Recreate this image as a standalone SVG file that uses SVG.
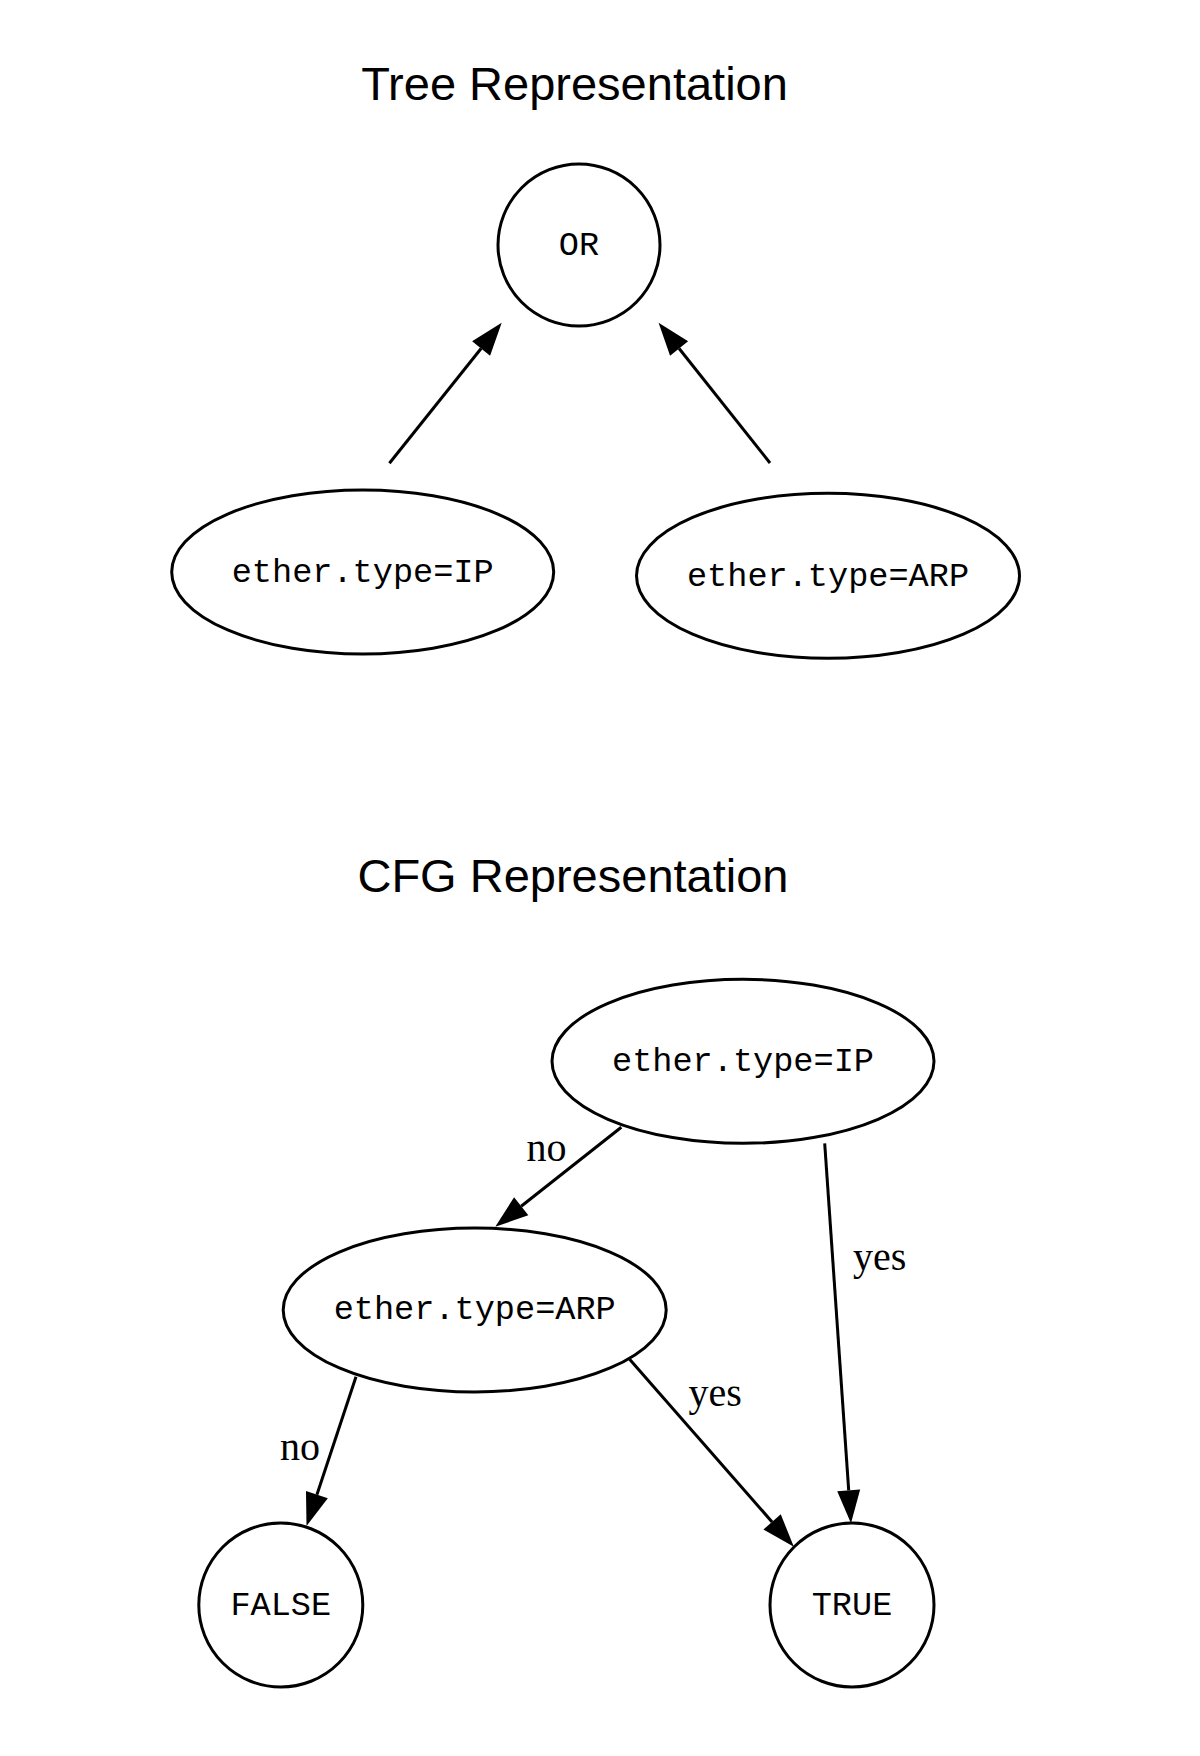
<svg xmlns="http://www.w3.org/2000/svg" width="1200" height="1756" viewBox="0 0 1200 1756">
<style>
.node{fill:#fff;stroke:#000;stroke-width:3}
.lbl{font-family:"Liberation Mono","DejaVu Sans Mono",monospace;font-size:33.6px;text-anchor:middle;fill:#000}
.title{font-family:"Liberation Sans",Arial,sans-serif;font-size:47px;text-anchor:middle;fill:#000}
.elbl{font-family:"Liberation Serif","Times New Roman",serif;font-size:40px;fill:#000}
.edge{fill:none;stroke:#000;stroke-width:3}
</style>
<defs>
<marker id="ah" markerUnits="userSpaceOnUse" markerWidth="34" markerHeight="24" refX="0" refY="11.5" orient="auto" overflow="visible">
<path d="M0,0 L33,11.5 L0,23 Z" fill="#000"/>
</marker>
</defs>
<rect width="1200" height="1756" fill="#fff"/>
<text class="title" x="574.5" y="100">Tree Representation</text>
<text class="title" x="573" y="892">CFG Representation</text>
<g id="connectors">
<line class="edge" x1="389.4" y1="463.3" x2="481.1" y2="348.5" marker-end="url(#ah)"/>
<line class="edge" x1="770" y1="463" x2="679.1" y2="348.5" marker-end="url(#ah)"/>
<line class="edge" x1="621.3" y1="1127.3" x2="521.2" y2="1206.3" marker-end="url(#ah)"/>
<line class="edge" x1="824.7" y1="1143.3" x2="848.7" y2="1490.4" marker-end="url(#ah)"/>
<line class="edge" x1="356" y1="1376.7" x2="316.9" y2="1494.7" marker-end="url(#ah)"/>
<line class="edge" x1="629.6" y1="1359.3" x2="772.1" y2="1521.9" marker-end="url(#ah)"/>
<text class="elbl" x="526.5" y="1161">no</text>
<text class="elbl" x="853" y="1270">yes</text>
<text class="elbl" x="280" y="1460">no</text>
<text class="elbl" x="688.6" y="1406">yes</text>
</g>
<g id="tree-or"><circle class="node" cx="579" cy="245" r="81"/><text class="lbl" x="579" y="255">OR</text></g>
<g id="tree-ip"><ellipse class="node" cx="362.7" cy="572" rx="191" ry="82"/><text class="lbl" x="362.7" y="582">ether.type=IP</text></g>
<g id="tree-arp"><ellipse class="node" cx="828" cy="575.8" rx="191.5" ry="82.5"/><text class="lbl" x="828" y="585.5">ether.type=ARP</text></g>
<g id="cfg-ip"><ellipse class="node" cx="743" cy="1061.3" rx="191" ry="82"/><text class="lbl" x="743" y="1070.5">ether.type=IP</text></g>
<g id="cfg-arp"><ellipse class="node" cx="474.7" cy="1310" rx="191.5" ry="82"/><text class="lbl" x="474.7" y="1319">ether.type=ARP</text></g>
<g id="cfg-false"><circle class="node" cx="280.8" cy="1605" r="82"/><text class="lbl" x="280.8" y="1615">FALSE</text></g>
<g id="cfg-true"><circle class="node" cx="852" cy="1605" r="82"/><text class="lbl" x="852" y="1615">TRUE</text></g>
</svg>
